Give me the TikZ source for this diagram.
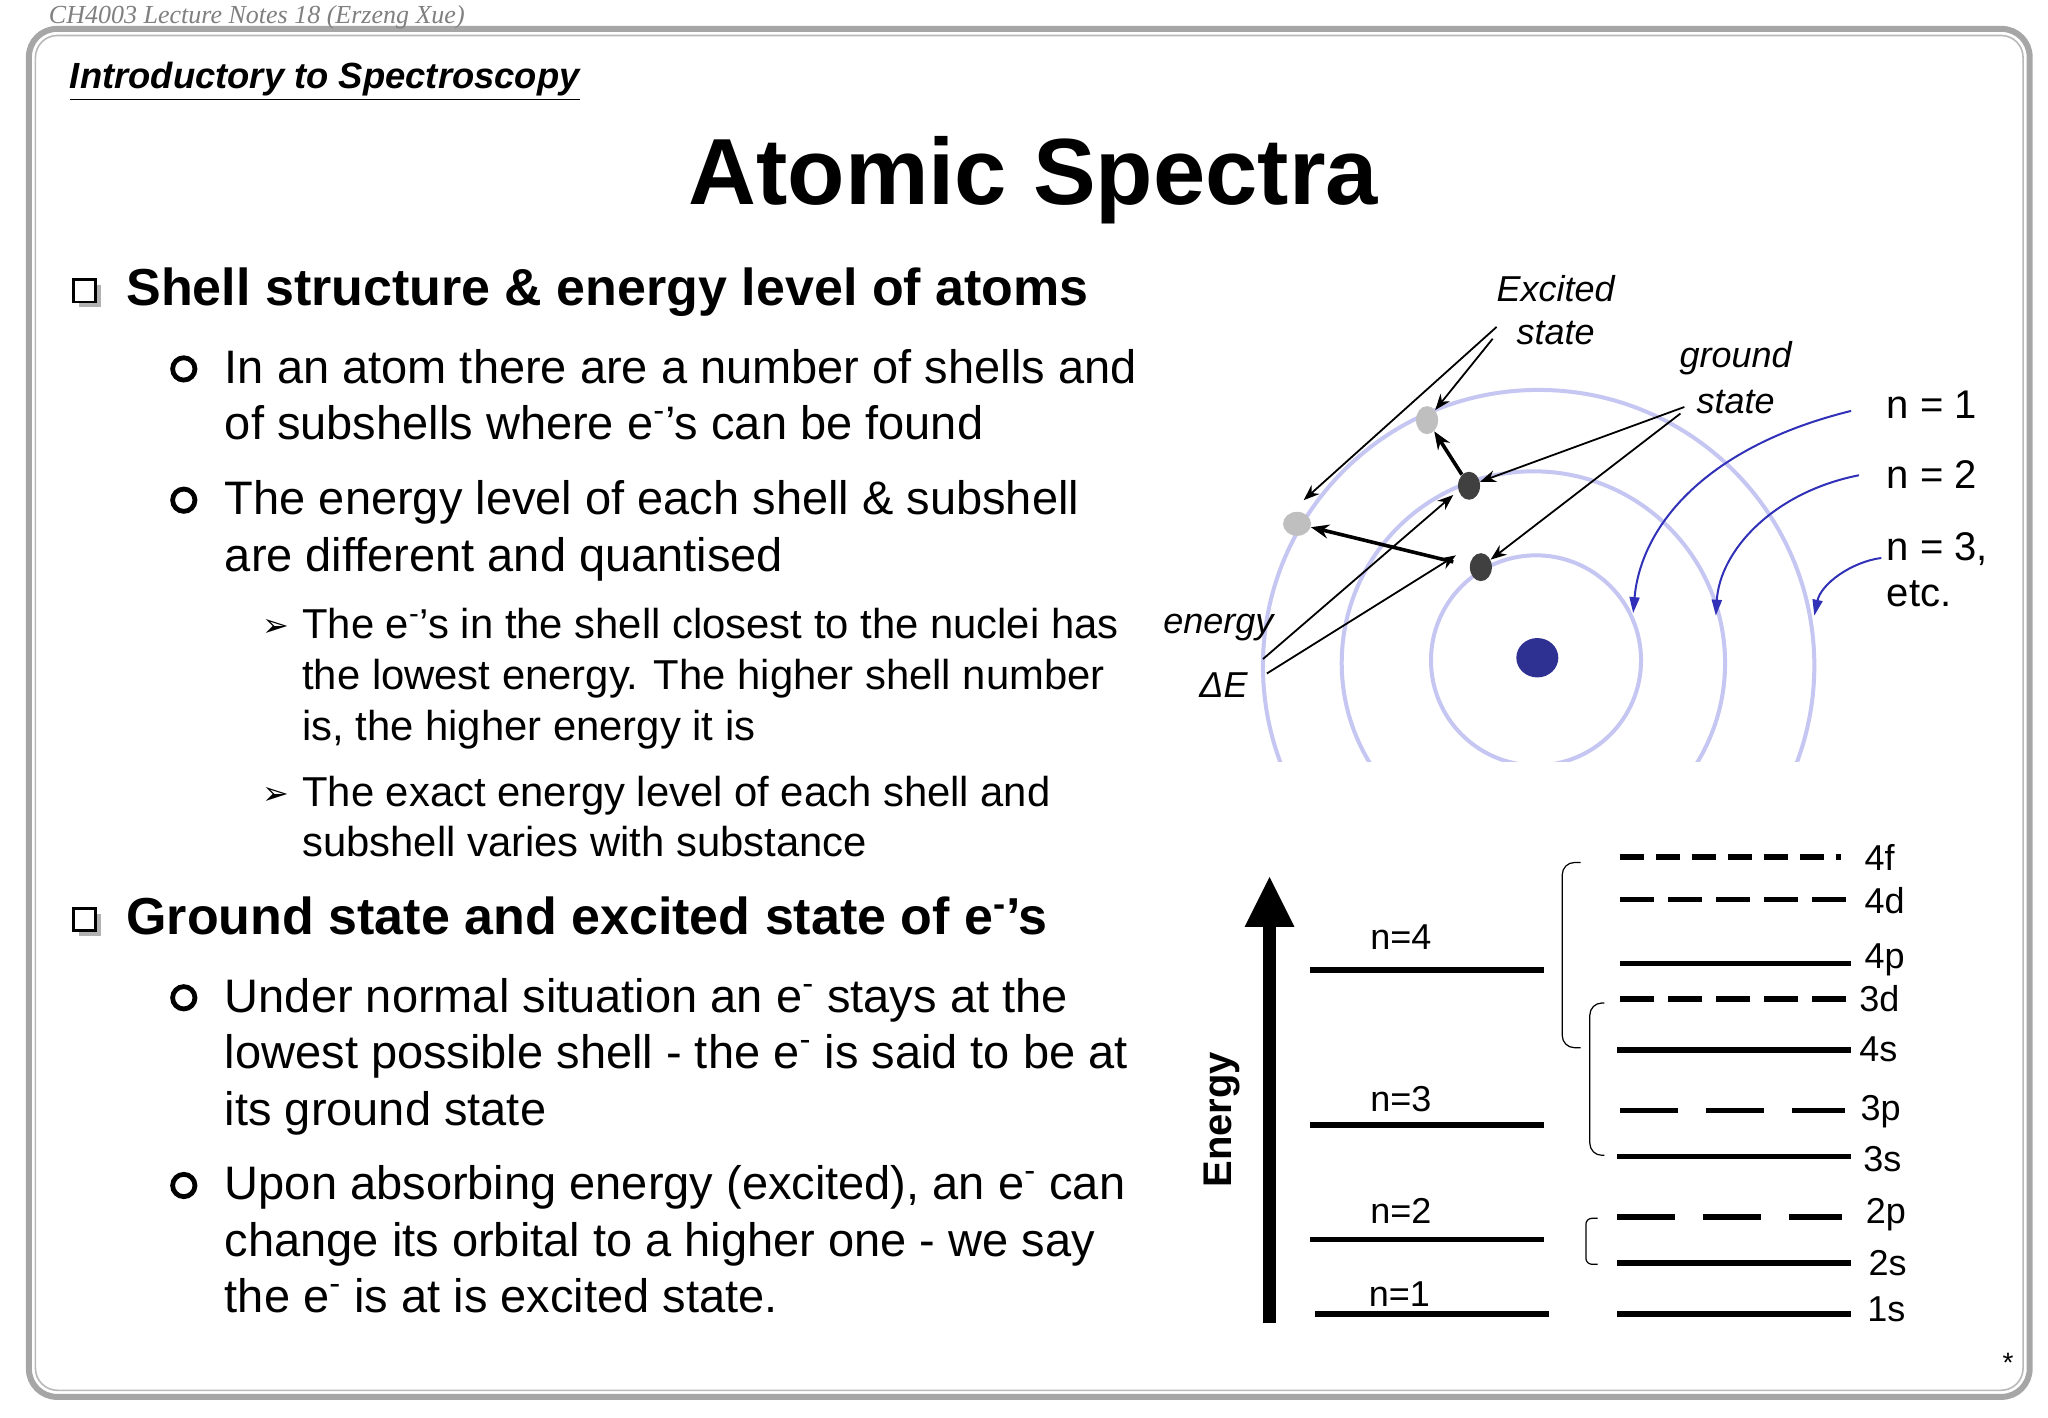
\documentclass[tikz,border=0pt]{standalone}
\usepackage{fontspec}
\setmainfont{Liberation Sans}
\newfontfamily\serifit{Liberation Serif}
\newfontfamily\djv{DejaVu Sans}
\usetikzlibrary{arrows.meta}
\definecolor{orb}{HTML}{C6C6F2}
\definecolor{nucl}{HTML}{2E3192}
\definecolor{blu}{HTML}{3030B8}
\tikzset{
  body/.style={anchor=mid west,inner sep=0pt,font=\fontsize{23.5}{28}\selectfont},
  sub/.style={anchor=mid west,inner sep=0pt,font=\fontsize{20.9}{24}\selectfont},
  head/.style={anchor=mid west,inner sep=0pt,font=\fontsize{26}{30}\selectfont\bfseries},
  lab/.style={inner sep=0pt,font=\fontsize{18}{20}\selectfont},
  itl/.style={inner sep=0pt,font=\fontsize{18}{20}\selectfont\itshape},
  nlab/.style={anchor=mid west,inner sep=0pt,font=\fontsize{20}{22}\selectfont},
  lvl/.style={line width=2.8pt},
  orbit/.style={orb,line width=2pt},
  thin/.style={line width=0.9pt,-{Stealth[length=8pt,width=6pt]}},
  thick/.style={line width=1.8pt,-{Stealth[length=9pt,width=7pt]}},
  barrow/.style={blu,line width=1pt,-{Triangle[length=8pt,width=5pt]}},
  brk/.style={line width=0.6pt,rounded corners=6pt},
  elec/.style={ellipse,inner sep=0pt},
}
\usetikzlibrary{shapes.geometric}
\begin{document}
\begin{tikzpicture}[x=0.6564pt,y=-0.6564pt]
\useasboundingbox (0,0) rectangle (1560,1080);
\fill[white] (0,0) rectangle (1560,1080);
% frame
\draw[gray!70,line width=3pt,rounded corners=14pt] (22,22) rectangle (1546,1064);
\draw[gray!55,line width=0.8pt,rounded corners=11pt] (27,27) rectangle (1541,1059);
\node[anchor=west,inner sep=0pt,text=gray,font=\serifit\fontsize{13}{14}\selectfont\itshape] (hdr) at (37,13) {CH4003 Lecture Notes 18 (Erzeng Xue)};
\node[anchor=west,inner sep=0pt,font=\fontsize{18.2}{20}\selectfont\bfseries\itshape] (intro) at (53,62) {\underline{Introductory to Spectroscopy}};
\node[inner sep=0pt,font=\fontsize{47}{50}\selectfont\bfseries] (title) at (787,137) {Atomic Spectra};
\node[anchor=south east,inner sep=0pt,font=\fontsize{14}{14}\selectfont] (star) at (1534,1046) {*};
% bullets
\foreach \y in {222,701}{
  \fill[gray!60] (60,\y-5) rectangle (77,\y+12);
  \fill[white,draw=black,line width=1.4pt] (56,\y-9) rectangle (73,\y+8);}
\foreach \y in {281,381,760,903}{\draw[line width=2.4pt] (140,\y) circle (8.5);}
\foreach \y in {477,605}{\node[inner sep=0pt,font=\djv\fontsize{16}{16}\selectfont] at (210,\y+1) {➢};}
\node[head] (h1) at (96,229) {Shell structure \& energy level of atoms};
\node[body] (b1) at (171,288) {In an atom there are a number of shells and};
\node[body] (b1b) at (171,331) {of subshells where e\textsuperscript{-}’s can be found};
\node[body] (b2) at (171,388) {The energy level of each shell \& subshell};
\node[body] (b2b) at (171,431) {are different and quantised};
\node[sub] (s1) at (230,482) {The e\textsuperscript{-}’s in the shell closest to the nuclei has};
\node[sub] (s1b) at (230,521) {the lowest energy. The higher shell number};
\node[sub] (s1c) at (230,560) {is, the higher energy it is};
\node[sub] (s2) at (230,610) {The exact energy level of each shell and};
\node[sub] (s2b) at (230,648) {subshell varies with substance};
\node[head] (h2) at (96,708) {Ground state and excited state of e\textsuperscript{-}’s};
\node[body] (c1) at (171,767) {Under normal situation an e\textsuperscript{-} stays at the};
\node[body] (c1b) at (171,810) {lowest possible shell - the e\textsuperscript{-} is said to be at};
\node[body] (c1c) at (171,853) {its ground state};
\node[body] (c2) at (171,910) {Upon absorbing energy (excited), an e\textsuperscript{-} can};
\node[body] (c2b) at (171,953) {change its orbital to a higher one - we say};
\node[body] (c2c) at (171,996) {the e\textsuperscript{-} is at is excited state.};
% atom
\begin{scope}
\clip (900,200) rectangle (1560,580);
\draw[orbit] (1170,503) circle (80);
\draw[orbit] (1168,505) circle (146);
\draw[orbit] (1172,507) circle (210);
\end{scope}
\fill[nucl] (1171,501) ellipse (16 and 15);
\node[elec,fill=gray!50,minimum width=11pt,minimum height=14pt] (ex1) at (1087,320) {};
\node[elec,fill=gray!50,minimum width=14pt,minimum height=12pt] (ex2) at (988,399) {};
\node[elec,fill=black!75,minimum width=11pt,minimum height=14pt] (g2) at (1119,370) {};
\node[elec,fill=black!75,minimum width=11pt,minimum height=14pt] (g1) at (1128,432) {};
\node[itl] (exl) at (1185,220) {Excited};
\node[itl] (exl2) at (1185,254) {state};
\node[itl] (gl) at (1322,273) {ground};
\node[itl] (gl2) at (1322,306) {state};
\node[itl] (en) at (928,478) {energy};
\node[itl] (de) at (932,522) {ΔE};
\coordinate (ea) at (1140,249);
\coordinate (eb) at (1137,258);
\coordinate (ga) at (1283,310);
\coordinate (gb) at (1280,315);
\coordinate (da) at (962,502);
\coordinate (db) at (965,513);
\draw[thin] (ea) -- (993,381);
\draw[thin] (eb) -- (ex1);
\draw[thin] (ga) -- (g2);
\draw[thin] (gb) -- (g1);
\draw[thin] (da) -- (1107,377);
\draw[thin] (db) -- (1109,423);
\draw[thick] (g2) -- (ex1);
\draw[thick] (1107,428) -- (ex2);
% blue arrows
\node[nlab] (n1) at (1437,315) {n = 1};
\node[nlab] (n2) at (1437,368) {n = 2};
\node[nlab] (n3) at (1437,423) {n = 3,};
\node[nlab] (n4) at (1437,458) {etc.};
\draw[barrow] (1410,313) .. controls (1300,340) and (1250,400) .. (1244,467);
\draw[barrow] (1416,362) .. controls (1350,375) and (1310,420) .. (1307,469);
\draw[barrow] (1433,425) .. controls (1410,428) and (1387,445) .. (1382,469);
% energy diagram
\draw[line width=6.5pt] (967,1008) -- (967,700);
\fill (967,668) -- (986,706) -- (948,706) -- cycle;
\node[rotate=90,inner sep=0pt,font=\fontsize{20}{22}\selectfont\bfseries] (energy) at (931,853) {Energy};
\draw[lvl] (998,739) -- (1176,739);
\draw[lvl] (998,857) -- (1176,857);
\draw[lvl] (998,944) -- (1176,944);
\draw[lvl] (1002,1001) -- (1180,1001);
\node[lab] (l4) at (1067,714) {n=4};
\node[lab] (l3) at (1067,837) {n=3};
\node[lab] (l2) at (1067,922) {n=2};
\node[lab] (l1) at (1066,986) {n=1};
\draw[lvl,dash pattern=on 12pt off 6pt] (1234,653) -- (1402,653);
\draw[lvl,dash pattern=on 17pt off 7pt] (1234,685) -- (1410,685);
\draw[lvl] (1234,734) -- (1410,734);
\draw[lvl,dash pattern=on 17pt off 7pt] (1234,761) -- (1410,761);
\draw[lvl] (1232,800) -- (1410,800);
\draw[lvl,dash pattern=on 29pt off 14pt] (1234,846) -- (1405,846);
\draw[lvl] (1232,881) -- (1410,881);
\draw[lvl,dash pattern=on 29pt off 14pt] (1232,927) -- (1403,927);
\draw[lvl] (1232,962) -- (1410,962);
\draw[lvl] (1232,1001) -- (1410,1001);
\node[lab,anchor=west] (o4f) at (1420,653) {4f};
\node[lab,anchor=west] (o4d) at (1420,686) {4d};
\node[lab,anchor=west] (o4p) at (1420,731) {4p};
\node[lab,anchor=west] (o3d) at (1416,761) {3d};
\node[lab,anchor=west] (o4s) at (1416,799) {4s};
\node[lab,anchor=west] (o3p) at (1417,847) {3p};
\node[lab,anchor=west] (o3s) at (1419,883) {3s};
\node[lab,anchor=west] (o2p) at (1421,925) {2p};
\node[lab,anchor=west] (o2s) at (1423,962) {2s};
\node[lab,anchor=west] (o1s) at (1422,997) {1s};
\draw[brk] (1204,657) -- (1190,657) -- (1190,798) -- (1204,798);
\draw[brk] (1222,764) -- (1211,764) -- (1211,880) -- (1222,880);
\draw[brk,rounded corners=3pt] (1217,928) -- (1208,928) -- (1208,963) -- (1217,963);
\end{tikzpicture}
\end{document}
